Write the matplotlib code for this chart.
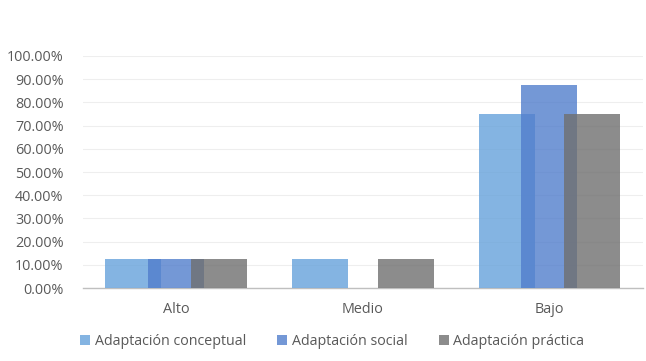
#Grouped bar chart of adaptation levels

#imports
import numpy as np
import matplotlib
matplotlib.use("Agg")
import matplotlib.pyplot as plt
from matplotlib.ticker import FuncFormatter

#data
categories = ["Alto", "Medio", "Bajo"]
conceptual = [0.125, 0.125, 0.75]
social = [0.125, 0.0, 0.875]
practica = [0.125, 0.125, 0.75]
series_names = ["Adaptación conceptual", "Adaptación social", "Adaptación práctica"]

plt.rcParams['font.family'] = ['Open Sans', 'DejaVu Sans']

colors = ["#66A2DB", "#517ECC", "#6F6F6F"]
text_color = "#595959"

fig = plt.figure(figsize=(6.46, 3.61), dpi=100)
ax = fig.add_axes([0.1285, 0.202, 0.8665, 0.643])

x = np.arange(len(categories))
width = 0.30
offset = 0.23

for i, (vals, name) in enumerate(zip([conceptual, social, practica], series_names)):
	ax.bar(x + (i - 1) * offset, vals, width, color=colors[i], alpha=0.8,
		label=name, zorder=3, linewidth=0)

#axes styling
ax.set_xlim(-0.5, 2.5)
ax.set_ylim(0, 1.0)
ax.set_yticks(np.arange(0, 1.01, 0.1))
ax.yaxis.set_major_formatter(FuncFormatter(lambda v, p: "%.2f%%" % (v * 100)))
ax.set_xticks(x)
ax.set_xticklabels(categories)
ax.grid(axis='y', color="#eeeeee", linewidth=0.8, zorder=0)
for side in ['top', 'right', 'left']:
	ax.spines[side].set_visible(False)
ax.spines['bottom'].set_color("#bfbfbf")
ax.spines['bottom'].set_linewidth(1.0)
ax.tick_params(axis='both', length=0, colors=text_color, labelsize=10.4)
ax.tick_params(axis='x', pad=10)
ax.tick_params(axis='y', pad=14)

#legend
leg = ax.legend(loc='center', bbox_to_anchor=(0.445, -0.23), ncol=3,
	frameon=False, fontsize=10.3, handlelength=0.7, handleheight=0.7,
	handletextpad=0.3, columnspacing=2.2)
for t in leg.get_texts():
	t.set_color(text_color)

fig.savefig("out.png", dpi=100)
